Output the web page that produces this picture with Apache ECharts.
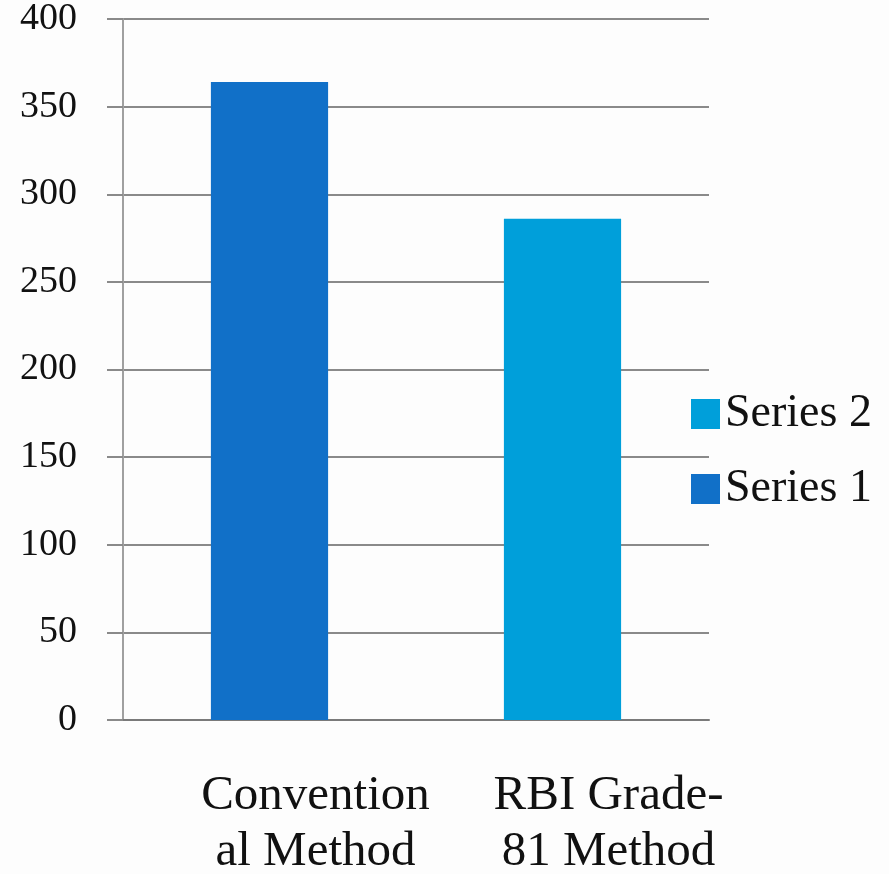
<!DOCTYPE html>
<html>
<head>
<meta charset="utf-8">
<script src="https://cdn.jsdelivr.net/npm/echarts@6/dist/echarts.min.js"></script>
<style>
  html, body { margin: 0; padding: 0; background: #fdfdfd; }
  #chart { width: 889px; height: 874px; }
</style>
</head>
<body>
<div id="chart"></div>
<script>
// Category labels, wrapped the way they appear under the bars
const categories = ['Convention\nal Method', 'RBI Grade-\n81 Method'];
// Each method has its own series; the other slot stays empty
const series1Values = [364, '-'];
const series2Values = ['-', 286];
const yTicks = { min: 0, max: 400, interval: 50 };

const FONT = "'Liberation Serif', 'DejaVu Serif', serif";
const chart = echarts.init(document.getElementById('chart'));

chart.setOption({
  backgroundColor: '#fdfdfd',
  animation: false,
  grid: { left: 123, right: 180, top: 19, bottom: 154, containLabel: false, outerBoundsMode: 'none' },
  legend: {
    orient: 'vertical',
    left: 686,
    top: 386,
    itemWidth: 29,
    itemHeight: 30,
    itemGap: 29,
    icon: 'rect',
    data: ['Series 2', 'Series 1'],
    textStyle: { fontFamily: FONT, fontSize: 46, color: '#111' }
  },
  xAxis: {
    type: 'category',
    data: categories,
    axisLine: { show: true, lineStyle: { color: '#7a7a7a', width: 2 } },
    axisTick: { show: false },
    axisLabel: {
      interval: 0,
      hideOverlap: false,
      fontFamily: FONT,
      fontSize: 49,
      color: '#111',
      lineHeight: 56,
      margin: 48,
      padding: [0, 0, 0, 92]
    },
    splitLine: { show: false }
  },
  yAxis: {
    type: 'value',
    min: yTicks.min,
    max: yTicks.max,
    interval: yTicks.interval,
    axisLine: { show: true, lineStyle: { color: '#a0a0a0', width: 2 } },
    axisTick: { show: true, length: 16, lineStyle: { color: '#8a8a8a', width: 2 } },
    axisLabel: { fontFamily: FONT, fontSize: 38, color: '#111', margin: 46 },
    splitLine: { show: true, lineStyle: { color: '#8a8a8a', width: 2 } }
  },
  series: [
    {
      name: 'Series 1',
      type: 'bar',
      stack: 'methods',
      barWidth: '40%',
      data: series1Values,
      itemStyle: { color: '#1170c8' }
    },
    {
      name: 'Series 2',
      type: 'bar',
      stack: 'methods',
      barWidth: '40%',
      data: series2Values,
      itemStyle: { color: '#009fda' }
    }
  ]
});
</script>
</body>
</html>
